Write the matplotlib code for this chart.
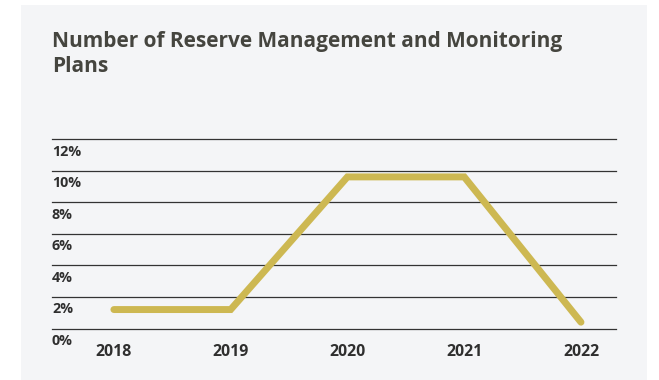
import matplotlib
matplotlib.use("Agg")
import matplotlib.pyplot as plt
from matplotlib.patches import Rectangle
from matplotlib.transforms import ScaledTranslation

# Data
years = ["2018", "2019", "2020", "2021", "2022"]
share_pct = [1.2, 1.2, 9.6, 9.6, 0.4]
y_ticks = [0, 2, 4, 6, 8, 10, 12]
y_tick_labels = ["0%", "2%", "4%", "6%", "8%", "10%", "12%"]
title = "Number of Reserve Management and Monitoring\nPlans"

W, H, DPI = 659, 380, 100
bg_panel = "#f4f5f7"
line_color = "#cdb852"
text_color = "#2f2f2f"
title_color = "#45453f"
font = "Open Sans"

fig = plt.figure(figsize=(W / DPI, H / DPI), dpi=DPI)
fig.patch.set_facecolor("white")

# light panel behind the chart
fig.add_artist(Rectangle((21 / W, 0), (647 - 21) / W, (H - 5) / H,
                         transform=fig.transFigure, facecolor=bg_panel,
                         edgecolor="none", zorder=0))

left_px, right_px = 52, 616
zero_px, top_px = 328.5, 139.0
ax = fig.add_axes([left_px / W, (H - zero_px) / H,
                   (right_px - left_px) / W, (zero_px - top_px) / H])
ax.set_facecolor("none")

x = list(range(len(years)))
ax.set_xlim(-0.53, 4.30)
ax.set_ylim(0, 12)

for v in y_ticks:
    ax.axhline(v, color="#333333", lw=0.9, zorder=1, clip_on=False)

ax.plot(x, share_pct, color=line_color, lw=5, solid_capstyle="round",
        solid_joinstyle="miter", zorder=3)

for s in ax.spines.values():
    s.set_visible(False)
ax.set_xticks([])
ax.set_yticks([])

# y labels sit just below each gridline, flush with the left edge
ytrans = ax.get_yaxis_transform() + ScaledTranslation(0, -12.5 / DPI, fig.dpi_scale_trans)
for v, lab in zip(y_ticks, y_tick_labels):
    ax.text(0, v, lab, transform=ytrans, ha="left", va="center",
            fontsize=10.3, fontfamily=font, fontweight="bold", color=text_color)

# x labels under the bottom gridline
xtrans = ax.get_xaxis_transform() + ScaledTranslation(0, -23.5 / DPI, fig.dpi_scale_trans)
for xi, lab in zip(x, years):
    ax.text(xi, 0, lab, transform=xtrans, ha="center", va="center",
            fontsize=11.4, fontfamily=font, fontweight="bold", color=text_color)

ttl = fig.text(52 / W, 1 - 31 / H, title, ha="left", va="top",
               fontsize=14.0, fontfamily=font, fontweight="bold",
               color=title_color, linespacing=1.25)

# fit the title's first line to run from x=52 to about x=566
fig.canvas.draw()
first = fig.text(0, 0, title.split("\n")[0], fontsize=14.0, fontfamily=font,
                 fontweight="bold")
wpx = first.get_window_extent(fig.canvas.get_renderer()).width
first.remove()
ttl.set_fontsize(14.0 * 514 / wpx)

fig.savefig("out.png", dpi=DPI, facecolor="white")
